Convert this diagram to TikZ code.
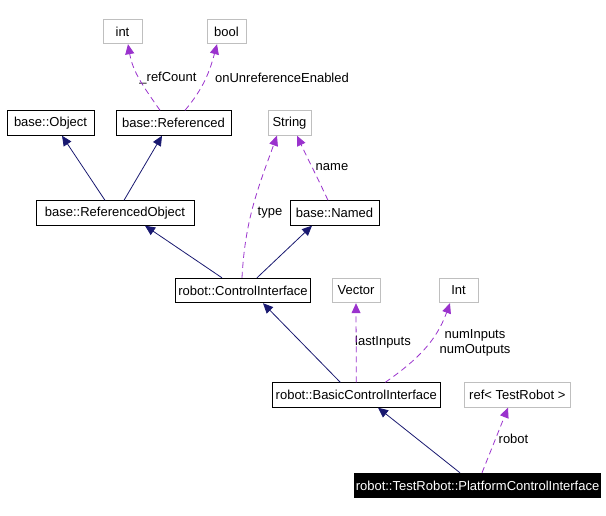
\documentclass[tikz,border=0pt]{standalone}
\usepackage{fontspec}
\setmainfont{Liberation Sans}
\usepackage{xcolor}
\usepackage{tikz}
\usetikzlibrary{arrows.meta,positioning}
\definecolor{inhblue}{HTML}{191970}
\definecolor{usepurple}{HTML}{9A32CD}
\definecolor{boxgray}{HTML}{BFBFBF}

\begin{document}
\begin{tikzpicture}[x=1pt,y=1pt]
    \tikzset{
      cls/.style={rectangle,draw=black,line width=0.9pt,minimum height=24.5pt,inner xsep=1pt,font=\fontsize{13}{15.5}\selectfont},
      ext/.style={cls,draw=boxgray},
      self/.style={cls,fill=black,text=white},
      lbl/.style={inner sep=0pt,font=\fontsize{13}{15.5}\selectfont,align=center},
      inh/.style={-{Triangle[length=10pt,width=9pt]},draw=inhblue,line width=0.8pt},
      use/.style={-{Triangle[length=10pt,width=9pt]},draw=usepurple,line width=0.8pt,dash pattern=on 6pt off 4pt}
    }
    \useasboundingbox (0,0) rectangle (606,-515);
    \node[ext,minimum width=39pt] (int) at (122.5,-31.5) {int};
    \node[ext,minimum width=39pt] (bool) at (226.5,-31.5) {bool};
    \node[cls,minimum width=87pt] (object) at (50.5,-123) {base::Object};
    \node[cls,minimum width=115pt] (referenced) at (173.5,-123) {base::Referenced};
    \node[ext,minimum width=43pt] (string) at (289.5,-123) {String};
    \node[cls,minimum width=158pt] (refobject) at (115,-213) {base::ReferencedObject};
    \node[cls,minimum width=89pt] (named) at (334.5,-213) {base::Named};
    \node[cls,minimum width=135pt] (ctrl) at (243,-290.5) {robot::ControlInterface};
    \node[ext,minimum width=48pt] (vector) at (356,-290.5) {Vector};
    \node[ext,minimum width=39pt] (intcls) at (458.5,-290.5) {Int};
    \node[cls,minimum width=168pt] (basic) at (356.3,-395) {robot::BasicControlInterface};
    \node[ext,minimum width=106pt] (robotref) at (517.3,-395) {ref< TestRobot >};
    \node[self,minimum width=245pt] (platform) at (477.5,-485.5) {robot::TestRobot::PlatformControlInterface};
    % edge labels
    \node[lbl] (lrefcount) at (168,-78) {\_refCount};
    \node[lbl] (lunref) at (282,-78) {onUnreferenceEnabled};
    \node[lbl] (ltype) at (270,-213) {type};
    \node[lbl] (lname) at (332,-167) {name};
    \node[lbl] (llast) at (383,-342) {lastInputs};
    \node[lbl] (lnum) at (475,-343) {numInputs\\numOutputs};
    \node[lbl] (lrobot) at (513.5,-439) {robot};
    % inheritance
    \draw[inh] ([xshift=-10pt]refobject.north) -- ([xshift=11.5pt]object.south);
    \draw[inh] ([xshift=9pt]refobject.north) -- ([xshift=-11.5pt]referenced.south);
    \draw[inh] ([xshift=-21pt]ctrl.north) -- ([xshift=30pt]refobject.south);
    \draw[inh] ([xshift=14pt]ctrl.north) -- ([xshift=-22.5pt]named.south);
    \draw[inh] ([xshift=-16pt]basic.north) -- ([xshift=20pt]ctrl.south);
    \draw[inh] ([xshift=-17.5pt]platform.north) -- ([xshift=21.7pt]basic.south);
    % usage
    \draw[use] ([xshift=-13.5pt]referenced.north) to[out=125,in=-80] ([xshift=5.5pt]int.south);
    \draw[use] ([xshift=11.5pt]referenced.north) to[out=50,in=-105] ([xshift=-9.5pt]bool.south);
    \draw[use] ([xshift=-1pt]ctrl.north) to[out=87,in=-110] ([xshift=-12.5pt]string.south);
    \draw[use] ([xshift=-6.5pt]named.north) to[out=115,in=-65] ([xshift=7.5pt]string.south);
    \draw[use] (basic.north) -- (vector.south);
    \draw[use] ([xshift=29pt]basic.north) to[out=35,in=-110] ([xshift=-8.5pt]intcls.south);
    \draw[use] ([xshift=4.5pt]platform.north) -- ([xshift=-9.3pt]robotref.south);
\end{tikzpicture}
\end{document}
